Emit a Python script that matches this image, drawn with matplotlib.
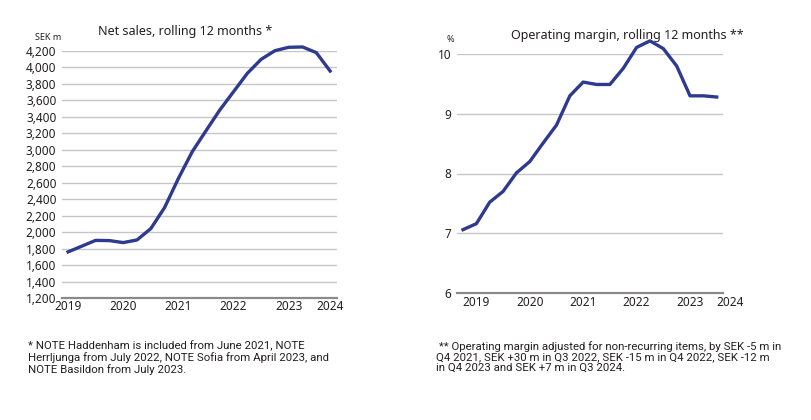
import matplotlib.pyplot as plt
import matplotlib.transforms as mtransforms

# -------------- Data --------------
# net sales, SEK m, one point per quarter
sales = [1760, 1830, 1900, 1897, 1873, 1905, 2043, 2299, 2652, 2976,
         3231, 3483, 3706, 3929, 4099, 4204, 4245, 4249, 4180, 3957]
# operating margin, %, one point per quarter
margin = [7.06, 7.16, 7.52, 7.70, 8.01, 8.20, 8.51, 8.81, 9.30, 9.53,
          9.49, 9.49, 9.76, 10.11, 10.22, 10.09, 9.80, 9.30, 9.30, 9.28]
years = ['2019', '2020', '2021', '2022', '2023', '2024']
sales_year_pos = [0, 4, 8, 12, 16, 19]
margin_year_pos = [1, 5, 9, 13, 17, 20]
sales_ticks = list(range(1200, 4201, 200))
margin_ticks = [6, 7, 8, 9, 10]

note_left = ("* NOTE Haddenham is included from June 2021, NOTE\n"
             "Herrljunga from July 2022, NOTE Sofia from April 2023, and\n"
             "NOTE Basildon from July 2023.")
note_right = (" ** Operating margin adjusted for non-recurring items, by SEK -5 m in\n"
              "Q4 2021, SEK +30 m in Q3 2022, SEK -15 m in Q4 2022, SEK -12 m\n"
              "in Q4 2023 and SEK +7 m in Q3 2024.")

# -------------- Style --------------
LINE = '#2e3a8f'
TXT = '#231f20'
GRID = '#c6c6c6'
plt.rcParams['font.family'] = ['Noto Sans', 'DejaVu Sans']

fig = plt.figure(figsize=(8.11, 4.2), dpi=100)


def style_axes(ax, ticks, labels, ymin, ymax):
    for t in ticks[1:]:
        ax.axhline(t, color=GRID, lw=1.0, zorder=1)
    for s in ['top', 'right', 'left']:
        ax.spines[s].set_visible(False)
    ax.spines['bottom'].set_color('#8a8a8a')
    ax.spines['bottom'].set_linewidth(1.6)
    ax.set_ylim(ymin, ymax)
    ax.set_yticks(ticks)
    ax.set_yticklabels(labels)
    ax.set_xticks([])
    ax.tick_params(axis='y', length=0, pad=4, labelsize=8.5, labelcolor=TXT)


# -------------- Net sales --------------
ax1 = fig.add_axes([62 / 811, 1 - 298 / 420, 275 / 811, 247 / 420])
style_axes(ax1, sales_ticks, [f'{v:,}' for v in sales_ticks], 1200, 4200)
ax1.plot(range(len(sales)), sales, color=LINE, lw=2.4, clip_on=False, zorder=3)
ax1.set_xlim(-0.44, 19.5)
tr1 = mtransforms.blended_transform_factory(ax1.transData, ax1.transAxes)
for p, y in zip(sales_year_pos, years):
    ax1.text(p, -0.033, y, transform=tr1, ha='center', va='center',
             fontsize=8.5, color=TXT)
fig.text(185 / 811, 1 - 32 / 420, 'Net sales, rolling 12 months *',
         ha='center', va='center', fontsize=9, color=TXT)
fig.text(48 / 811, 1 - 37 / 420, 'SEK m', ha='center', va='center',
         fontsize=6.5, color=TXT)

# -------------- Operating margin --------------
ax2 = fig.add_axes([457 / 811, 1 - 293 / 420, 266 / 811, 239 / 420])
style_axes(ax2, margin_ticks, [str(v) for v in margin_ticks], 6, 10)
ax2.plot(range(len(margin)), margin, color=LINE, lw=2.4, clip_on=False, zorder=3)
ax2.set_xlim(-0.45, 19.47)
tr2 = mtransforms.blended_transform_factory(ax2.transData, ax2.transAxes)
for p, y in zip(margin_year_pos, years):
    ax2.text(p, -0.04, y, transform=tr2, ha='center', va='center',
             fontsize=8.5, color=TXT)
fig.text(627 / 811, 1 - 35 / 420, 'Operating margin, rolling 12 months **',
         ha='center', va='center', fontsize=9, color=TXT)
fig.text(450 / 811, 1 - 40 / 420, '%', ha='center', va='center',
         fontsize=6.5, color=TXT)

# -------------- Footnotes --------------
narrow = ['Roboto', 'DejaVu Sans']
fig.text(28 / 811, 1 - 341 / 420, note_left, ha='left', va='top',
         fontsize=8.2, color=TXT, family=narrow, linespacing=1.08)
fig.text(436 / 811, 1 - 341 / 420, note_right, ha='left', va='top',
         fontsize=8.2, color=TXT, family=narrow, linespacing=1.08)

plt.savefig('out.png', dpi=100)
